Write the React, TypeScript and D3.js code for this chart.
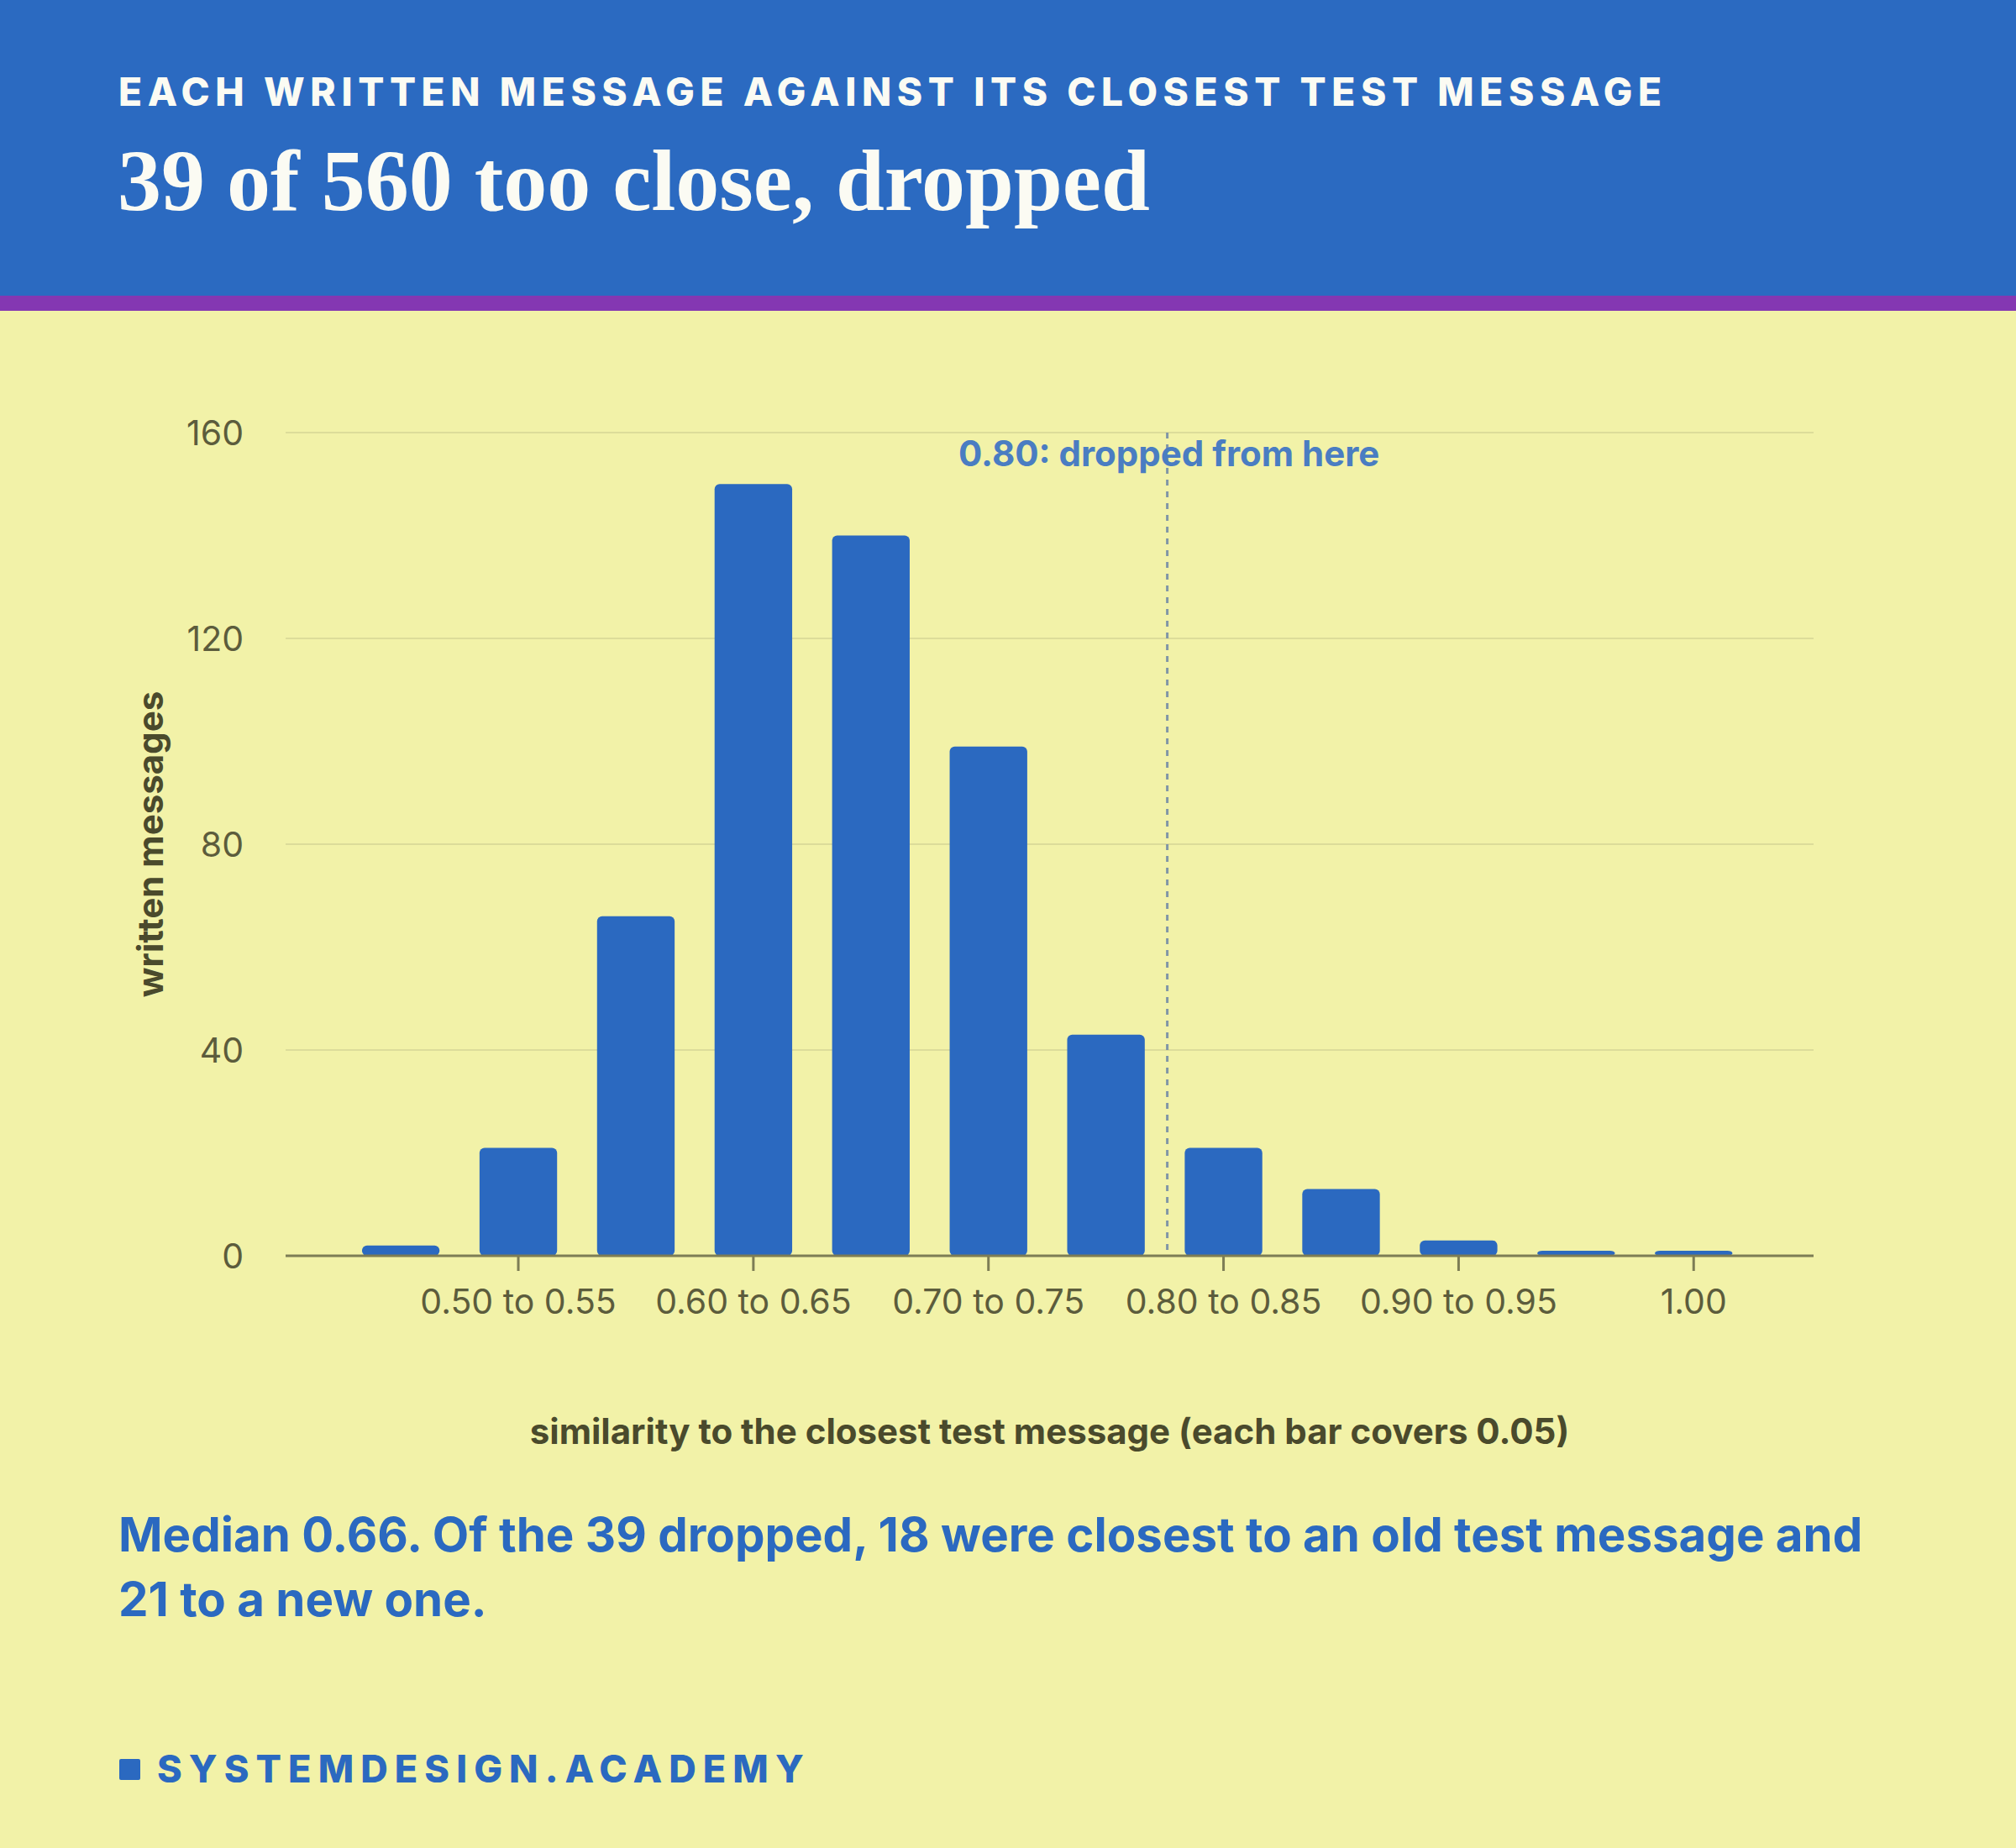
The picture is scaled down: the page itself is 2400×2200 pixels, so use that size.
import React from "react";
import { scaleBand, scaleLinear } from "d3";

// bins of similarity, each 0.05 wide; last bin is exactly 1.00
const bins = [
  "0.45 to 0.50",
  "0.50 to 0.55",
  "0.55 to 0.60",
  "0.60 to 0.65",
  "0.65 to 0.70",
  "0.70 to 0.75",
  "0.75 to 0.80",
  "0.80 to 0.85",
  "0.85 to 0.90",
  "0.90 to 0.95",
  "0.95 to 1.00",
  "1.00"
];
const counts = [2, 21, 66, 150, 140, 99, 43, 21, 13, 3, 1, 1];
const labelledBins = [
  "0.50 to 0.55",
  "0.60 to 0.65",
  "0.70 to 0.75",
  "0.80 to 0.85",
  "0.90 to 0.95",
  "1.00"
];
const yTicks = [0, 40, 80, 120, 160];
const cutoffBin = "0.80 to 0.85";

const W = 2400;
const H = 2200;
const LEFT = 340;
const RIGHT = 2159;
const TOP = 515;
const BOTTOM = 1495;

const BLUE = "#2b69c0";
const BG = "#f2f2a8";
const SANS = "Inter, 'Noto Sans', sans-serif";

export default function App() {
  const x = scaleBand<string>()
    .domain(bins)
    .range([LEFT, RIGHT])
    .paddingInner(0.34)
    .paddingOuter(0.67)
    .align(0.485);
  const y = scaleLinear().domain([0, 160]).range([BOTTOM, TOP]);

  // threshold line sits a little past the middle of the gap before the 0.80 bin
  const gap = x.step() - x.bandwidth();
  const cutX = x(cutoffBin)! - gap / 2 + 3;

  return (
    <div style={{ position: "absolute", left: 0, top: 0 }}>
      <svg width={W} height={H} style={{ display: "block" }}>
        <rect width={W} height={H} fill={BG} />
        <rect width={W} height={352} fill="#2b6ac1" />
        <rect y={352} width={W} height={18} fill="#8437b2" />

        <text
          x={141}
          y={126}
          fill="#fbfbf3"
          fontFamily={SANS}
          fontWeight={800}
          fontSize={46}
          letterSpacing={6.6}
        >
          EACH WRITTEN MESSAGE AGAINST ITS CLOSEST TEST MESSAGE
        </text>
        <text
          x={140}
          y={250}
          fill="#fbfbf3"
          fontFamily="'Liberation Serif', serif"
          fontWeight={700}
          fontSize={104}
        >
          39 of 560 too close, dropped
        </text>

        {/* grid */}
        {yTicks
          .filter(v => v > 0)
          .map(v => (
            <line
              key={v}
              x1={LEFT}
              x2={RIGHT}
              y1={y(v)}
              y2={y(v)}
              stroke="#dcdc9a"
              strokeWidth={2}
            />
          ))}

        {yTicks.map(v => (
          <text
            key={v}
            x={290}
            y={y(v)}
            dy="0.36em"
            textAnchor="end"
            fontFamily={SANS}
            fontSize={41}
            fill="#5c5c3c"
          >
            {v}
          </text>
        ))}

        {/* bars */}
        {bins.map((b, i) => (
          <rect
            key={b}
            x={x(b)}
            y={y(counts[i])}
            width={x.bandwidth()}
            height={BOTTOM - y(counts[i])}
            rx={6}
            fill={BLUE}
          />
        ))}

        {/* cutoff */}
        <line
          x1={cutX}
          x2={cutX}
          y1={TOP}
          y2={BOTTOM}
          stroke="#8196a6"
          strokeWidth={3}
          strokeDasharray="7 7"
        />
        <text
          x={1141}
          y={555}
          fill="#4a7dc2"
          fontFamily={SANS}
          fontWeight={700}
          fontSize={42}
        >
          0.80: dropped from here
        </text>

        {/* x axis */}
        <line x1={LEFT} x2={RIGHT} y1={BOTTOM} y2={BOTTOM} stroke="#7d7d55" strokeWidth={3} />
        {labelledBins.map(b => {
          const cx = x(b)! + x.bandwidth() / 2;
          return (
            <g key={b} transform={`translate(${cx},${BOTTOM})`}>
              <line y2={18} stroke="#7d7d55" strokeWidth={3} />
              <text
                y={69}
                textAnchor="middle"
                fontFamily={SANS}
                fontSize={41}
                fill="#5c5c3c"
              >
                {b}
              </text>
            </g>
          );
        })}

        <text
          x={(LEFT + RIGHT) / 2}
          y={1719}
          textAnchor="middle"
          fontFamily={SANS}
          fontWeight={700}
          fontSize={42}
          fill="#4a4a2c"
        >
          similarity to the closest test message (each bar covers 0.05)
        </text>
        <text
          transform={`translate(194,${(TOP + BOTTOM) / 2}) rotate(-90)`}
          textAnchor="middle"
          fontFamily={SANS}
          fontWeight={700}
          fontSize={42}
          fill="#4a4a2c"
        >
          written messages
        </text>

        {/* note */}
        <text fontFamily={SANS} fontWeight={700} fontSize={56.4} fill={BLUE}>
          <tspan x={141} y={1847}>
            Median 0.66. Of the 39 dropped, 18 were closest to an old test message and
          </tspan>
          <tspan x={141} y={1924}>
            21 to a new one.
          </tspan>
        </text>

        {/* footer */}
        <rect x={142} y={2094} width={25} height={25} rx={2} fill={BLUE} />
        <text
          x={187}
          y={2122}
          fontFamily={SANS}
          fontWeight={800}
          fontSize={45}
          letterSpacing={8.1}
          fill={BLUE}
        >
          SYSTEMDESIGN.ACADEMY
        </text>
      </svg>
    </div>
  );
}
